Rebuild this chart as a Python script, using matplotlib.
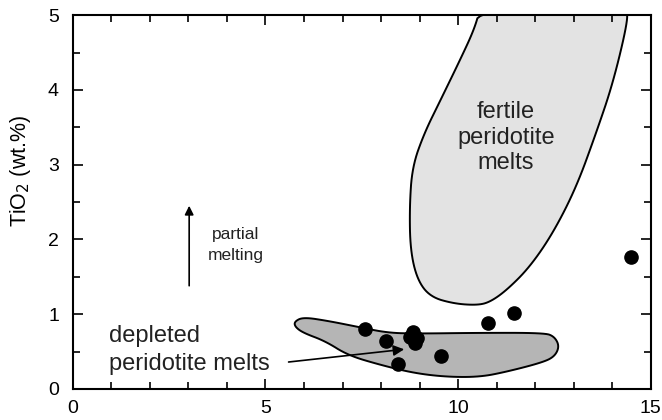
import numpy as np
import matplotlib.pyplot as plt
from matplotlib.patches import Polygon
from matplotlib.ticker import MultipleLocator

plt.rcParams['font.family'] = ['Liberation Sans', 'DejaVu Sans']

# sample compositions
mgo = [7.58, 8.14, 8.45, 8.84, 8.94, 8.74, 8.89, 9.56, 10.78, 11.44, 14.5]
tio2 = [0.80, 0.64, 0.33, 0.76, 0.68, 0.70, 0.61, 0.44, 0.88, 1.02, 1.77]

# field outlines (MgO, TiO2)
fertile_x = [10.57, 14.36, 14.41, 14.02, 13.58, 13.07, 12.47, 11.86, 11.26, 10.82,
             10.49, 9.90, 9.28, 8.94, 8.76, 8.74, 8.81, 9.12, 9.54, 10.05, 10.41]
fertile_y = [5.08, 5.08, 4.93, 4.09, 3.42, 2.70, 2.09, 1.63, 1.32, 1.16,
             1.12, 1.14, 1.23, 1.46, 1.86, 2.43, 2.97, 3.42, 3.86, 4.40, 4.80]

depleted_x = [5.75, 5.98, 6.62, 7.40, 8.17, 8.94, 10.49, 12.24, 12.50, 12.63,
              12.50, 12.16, 11.26, 10.57, 9.72, 8.87, 7.99, 7.14, 6.55, 5.98, 5.77]
depleted_y = [0.90, 0.96, 0.91, 0.83, 0.75, 0.74, 0.75, 0.75, 0.70, 0.57,
              0.43, 0.35, 0.23, 0.16, 0.16, 0.21, 0.32, 0.45, 0.64, 0.75, 0.83]


def chaikin(x, y, n=3):
    pts = np.column_stack([x, y])
    for _ in range(n):
        nxt = np.roll(pts, -1, axis=0)
        q = 0.75 * pts + 0.25 * nxt
        r = 0.25 * pts + 0.75 * nxt
        pts = np.empty((2 * len(q), 2))
        pts[0::2] = q
        pts[1::2] = r
    return pts


fig = plt.figure(figsize=(6.62, 4.2), dpi=100)
ax = fig.add_axes([0.110, 0.074, 0.873, 0.890])

ax.add_patch(Polygon(chaikin(fertile_x, fertile_y), closed=True,
                     facecolor='#e3e3e3', edgecolor='black', lw=1.4, zorder=1))
ax.add_patch(Polygon(chaikin(depleted_x, depleted_y), closed=True,
                     facecolor='#b5b5b5', edgecolor='black', lw=1.4, zorder=1))

ax.plot(mgo, tio2, 'o', color='black', markersize=9.5, zorder=3)

ax.text(11.24, 3.36, 'fertile\nperidotite\nmelts', ha='center', va='center',
        fontsize=17, linespacing=1.22, color='#222222')
ax.text(0.95, 0.52, 'depleted\nperidotite melts', ha='left', va='center',
        fontsize=17, linespacing=1.35, color='#222222')
ax.annotate('', xy=(8.6, 0.53), xytext=(5.6, 0.36),
            arrowprops=dict(arrowstyle='-|>', color='black', lw=1.2,
                            mutation_scale=16, shrinkA=0, shrinkB=0), zorder=4)

ax.annotate('', xy=(3.02, 2.45), xytext=(3.02, 1.38),
            arrowprops=dict(arrowstyle='-|>', color='black', lw=1.2,
                            mutation_scale=13, shrinkA=0, shrinkB=0))
ax.text(4.22, 1.92, 'partial\nmelting', ha='center', va='center',
        fontsize=12.5, linespacing=1.5, color='#222222')

ax.set_xlim(0, 15)
ax.set_ylim(0, 5)
ax.xaxis.set_major_locator(MultipleLocator(5))
ax.xaxis.set_minor_locator(MultipleLocator(1))
ax.yaxis.set_major_locator(MultipleLocator(1))
ax.yaxis.set_minor_locator(MultipleLocator(0.5))
ax.tick_params(which='both', direction='in', top=True, right=True, width=1.2)
ax.tick_params(which='major', length=7, labelsize=14)
ax.tick_params(which='minor', length=5)
ax.tick_params(axis='x', pad=8)
ax.tick_params(axis='y', pad=10)
for s in ax.spines.values():
    s.set_linewidth(1.5)

ax.set_ylabel('TiO$_2$ (wt.%)', fontsize=15.5)
ax.yaxis.set_label_coords(-0.069, 0.583)

fig.savefig('out.png', dpi=100)
